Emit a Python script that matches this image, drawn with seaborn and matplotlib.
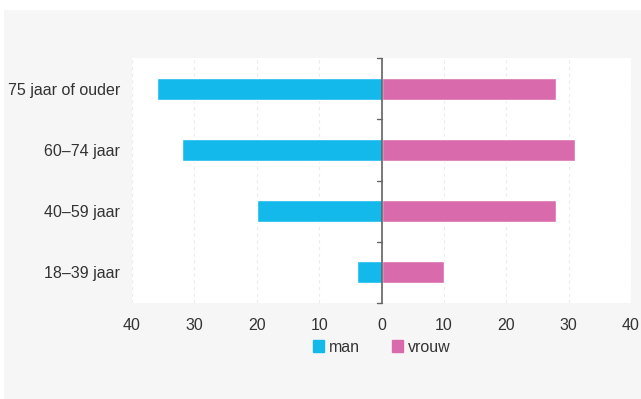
import matplotlib
matplotlib.use("Agg")
import matplotlib.pyplot as plt
import matplotlib.patches as mpatches
import numpy as np
import pandas as pd
import seaborn as sns

# data
ages = ['75 jaar of ouder', '60–74 jaar', '40–59 jaar', '18–39 jaar']
man = [36, 32, 20, 4]
vrouw = [28, 31, 28, 10]
series = ['man', 'vrouw']
colors = ['#13b9eb', '#d96aab']
xticks = [-40, -30, -20, -10, 0, 10, 20, 30, 40]

df = pd.DataFrame({
    'leeftijd': ages * 2,
    'geslacht': ['man'] * len(ages) + ['vrouw'] * len(ages),
    'waarde': [-v for v in man] + vrouw,
})

sns.set_theme(style='white')
plt.rcParams['font.family'] = ['Liberation Sans', 'DejaVu Sans']
txt = '#333333'
fs = 11.5

fig = plt.figure(figsize=(6.41, 3.99), dpi=100, facecolor='white')
# grey panel behind the chart
fig.patches.append(mpatches.Rectangle((4 / 641, 0), 1, 1 - 10 / 399,
                                      transform=fig.transFigure,
                                      facecolor='#f6f6f6', edgecolor='none', zorder=-5))

ax = fig.add_axes([132 / 641, 1 - 303 / 399, 499 / 641, 245 / 399])
ax.set_facecolor('white')
ax.set_zorder(2)

sns.barplot(data=df, x='waarde', y='leeftijd', hue='geslacht', order=ages,
            hue_order=series, palette=colors, dodge=False, width=0.36,
            orient='h', ax=ax, legend=False, saturation=1)

ax.set_xlim(-40, 40)
ax.set_ylim(3.5, -0.5)
ax.set_xticks(xticks)
ax.set_xticklabels([str(abs(t)) for t in xticks])
ax.set_xlabel('')
ax.set_ylabel('')
for s in ax.spines.values():
    s.set_visible(False)
ax.tick_params(axis='x', length=0, pad=10.5, labelsize=fs, labelcolor=txt)
ax.tick_params(axis='y', length=0, pad=8.5, labelsize=fs, labelcolor=txt)

# dashed vertical grid
for t in xticks:
    if t != 0:
        ax.axvline(t, color='#ececec', lw=0.8, ls=(0, (3, 3)), zorder=0)

# zero axis with small ticks at category boundaries
ax.axvline(0, color='#555555', lw=1.1, zorder=5)
for b in np.arange(-0.5, len(ages), 1):
    ax.plot([-0.65, 0], [b, b], color='#666666', lw=1, zorder=5, clip_on=False)

handles = [mpatches.Patch(color=c, label=s) for s, c in zip(series, colors)]
fig.legend(handles=handles, loc='center', bbox_to_anchor=(382 / 641, 1 - 347 / 399),
           ncol=2, frameon=False, handlelength=0.7, handleheight=0.7,
           handletextpad=0.3, columnspacing=2.0, fontsize=fs, labelcolor=txt)

fig.savefig('out.png', dpi=100, facecolor=fig.get_facecolor())
